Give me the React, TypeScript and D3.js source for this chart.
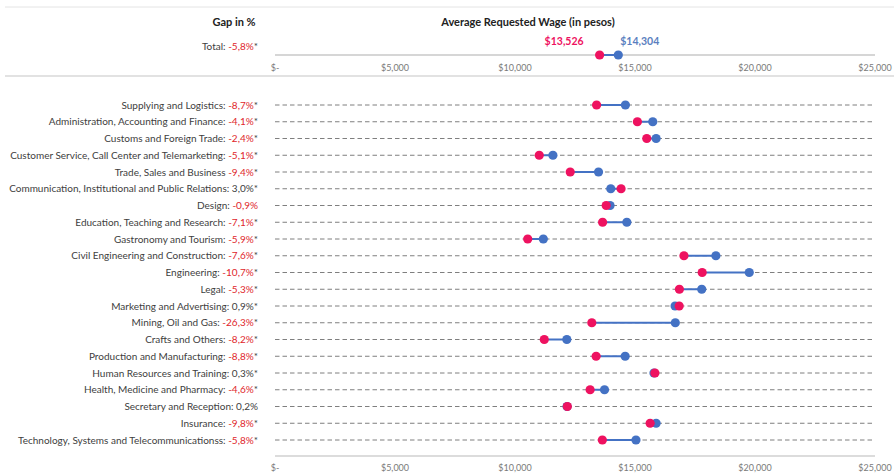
import React from "react";
import * as d3 from "d3";

const categories = [
  "Supplying and Logistics:",
  "Administration, Accounting and Finance:",
  "Customs and Foreign Trade:",
  "Customer Service, Call Center and Telemarketing:",
  "Trade, Sales and Business",
  "Communication, Institutional and Public Relations:",
  "Design:",
  "Education, Teaching and Research:",
  "Gastronomy and Tourism:",
  "Civil Engineering and Construction:",
  "Engineering:",
  "Legal:",
  "Marketing and Advertising:",
  "Mining, Oil and Gas:",
  "Crafts and Others:",
  "Production and Manufacturing:",
  "Human Resources and Training:",
  "Health, Medicine and Pharmacy:",
  "Secretary and Reception:",
  "Insurance:",
  "Technology, Systems and Telecommunicationss:",
];
const gaps = [-8.7, -4.1, -2.4, -5.1, -9.4, 3.0, -0.9, -7.1, -5.9, -7.6, -10.7, -5.3, 0.9, -26.3, -8.2, -8.8, 0.3, -4.6, 0.2, -9.8, -5.8];
const significant = [true, true, true, true, true, true, false, true, true, true, true, true, true, true, true, true, true, true, false, true, true];
const women = [13400, 15100, 15490, 11010, 12300, 14420, 13800, 13650, 10530, 17040, 17800, 16850, 16840, 13200, 11220, 13380, 15830, 13130, 12180, 15630, 13640];
const men = [14600, 15740, 15880, 11580, 13480, 13990, 13960, 14660, 11180, 18370, 19760, 17780, 16670, 16680, 12160, 14590, 15790, 13730, 12170, 15880, 15040];
const totalWomen = 13526;
const totalMen = 14304;
const totalGap = -5.8;
const xTicks = [0, 5000, 10000, 15000, 20000, 25000];

const RED = "#EE1260";
const BLUE = "#4472C4";
const TEXT = "#404040";
const NEG = "#E0262B";
const FONT = "Lato, 'Open Sans', sans-serif";

const fmtGap = (g: number) => g.toFixed(1).replace(".", ",") + "%";
const fmtMoney = (v: number) => (v === 0 ? "$-" : "$" + d3.format(",")(v));

export default function App() {
  const W = 894, H = 474;
  const x = d3.scaleLinear().domain([0, 25000]).range([275, 875]);
  const y = d3.scalePoint<string>().domain(categories).range([105, 440]);
  const labelX = 258;
  const topAxisY = 55;
  const bottomAxisY = 456;

  return (
    <svg width={W} height={H} style={{ position: "absolute", left: 0, top: 0, background: "#fff" }} fontFamily={FONT}>
      <line x1={5} x2={894} y1={7} y2={7} stroke="#e4e4e4" strokeWidth={1} />
      <line x1={5} x2={894} y1={76} y2={76} stroke="#d9d9d9" strokeWidth={1.5} />
      <text x={234} y={26} textAnchor="middle" fontWeight="bold" fontSize={11} fill="#222">Gap in %</text>
      <text x={528} y={26} textAnchor="middle" fontWeight="bold" fontSize={11} fill="#222">Average Requested Wage (in pesos)</text>
      <text x={labelX} y={50} textAnchor="end" fontSize={10} fill={TEXT}>
        Total: <tspan fill={totalGap < 0 ? NEG : TEXT}>{fmtGap(totalGap)}</tspan>*
      </text>
      {/* top axis */}
      <line x1={x(0)} x2={x(25000)} y1={topAxisY} y2={topAxisY} stroke="#c8c8c8" strokeWidth={1.5} />
      {xTicks.map((t) => (
        <text key={"tt" + t} x={x(t)} y={71} textAnchor="middle" fontSize={9} fill="#7a7a7a">{fmtMoney(t)}</text>
      ))}
      <line x1={x(totalWomen)} x2={x(totalMen)} y1={topAxisY} y2={topAxisY} stroke={BLUE} strokeWidth={2} />
      <circle cx={x(totalMen)} cy={topAxisY} r={4.6} fill={BLUE} />
      <circle cx={x(totalWomen)} cy={topAxisY} r={4.6} fill={RED} />
      <text x={x(totalWomen) - 16} y={45} textAnchor="end" fontSize={10.5} fontWeight="bold" fill={RED}>{fmtMoney(totalWomen)}</text>
      <text x={x(totalMen) + 2} y={45} textAnchor="start" fontSize={10.5} fontWeight="bold" fill="#5B7FC0">{fmtMoney(totalMen)}</text>

      {/* rows */}
      {categories.map((c, i) => {
        const yy = y(c) as number;
        return (
          <g key={c}>
            <line x1={x(0)} x2={x(25000)} y1={yy} y2={yy} stroke="#7f7f7f" strokeWidth={1} strokeDasharray="4.5,3" />
            <text x={labelX} y={yy + 3.5} textAnchor="end" fontSize={10} fill={TEXT}>
              {c} <tspan fill={gaps[i] < 0 ? NEG : TEXT}>{fmtGap(gaps[i])}</tspan>{significant[i] ? "*" : ""}
            </text>
            <line x1={x(women[i])} x2={x(men[i])} y1={yy} y2={yy} stroke={BLUE} strokeWidth={2} />
            <circle cx={x(men[i])} cy={yy} r={4.6} fill={BLUE} />
            <circle cx={x(women[i])} cy={yy} r={4.6} fill={RED} />
          </g>
        );
      })}

      {/* bottom axis */}
      <line x1={x(0)} x2={x(25000)} y1={bottomAxisY} y2={bottomAxisY} stroke="#d0d0d0" strokeWidth={1.5} />
      {xTicks.map((t) => (
        <text key={"bt" + t} x={x(t)} y={471} textAnchor="middle" fontSize={9} fill="#7a7a7a">{fmtMoney(t)}</text>
      ))}
    </svg>
  );
}
